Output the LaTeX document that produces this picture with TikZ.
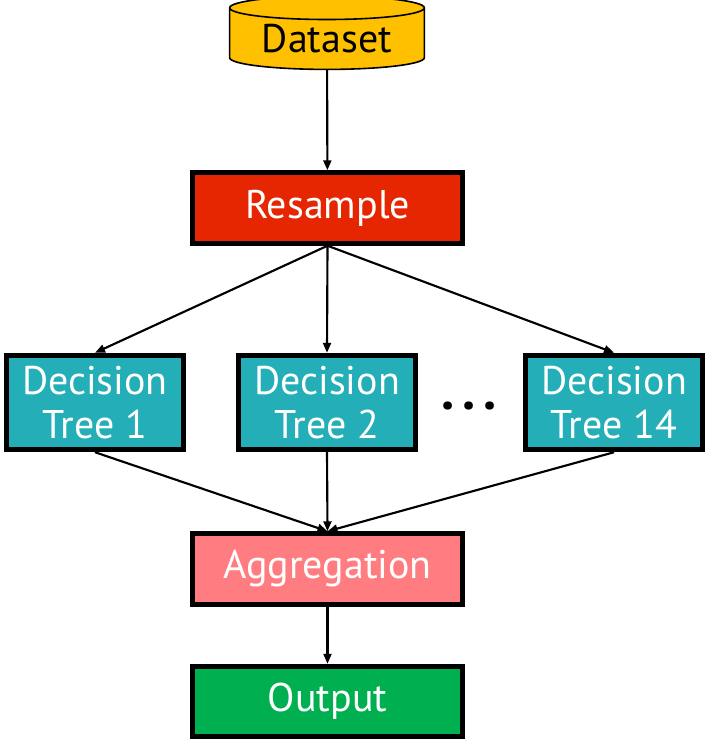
\documentclass[tikz,border=0pt]{standalone}
\usepackage{fontspec}
\setmainfont{PT Sans}
\usetikzlibrary{arrows.meta,shapes.geometric}
\definecolor{DataGold}{HTML}{FFC000}
\definecolor{ResRed}{HTML}{E52600}
\definecolor{TreeTeal}{HTML}{23AEB8}
\definecolor{AggPink}{HTML}{FF7C80}
\definecolor{OutGreen}{HTML}{00B050}

\begin{document}
\begin{tikzpicture}[x=0.75pt,y=-0.75pt,
  every node/.style={font=\fontsize{30}{33}\selectfont,align=center,inner sep=0pt},
  stage/.style={draw,line width=3.6pt,text=white,minimum width=203pt,minimum height=53pt},
  tree/.style={draw,line width=3.6pt,fill=TreeTeal,text=white,minimum width=133pt,minimum height=71pt},
  flow/.style={-{Triangle[length=7.5pt,width=6pt]},line width=1.6pt}]
  \useasboundingbox (0,0) rectangle (719,747);
  \node[draw,line width=1.2pt,fill=DataGold,cylinder,shape border rotate=90,aspect=0.18,minimum width=146pt,minimum height=55pt] (data) at (327,39) {Dataset};
  \node[stage,fill=ResRed] (resample) at (327.5,208) {Resample};
  \node[tree] (tree1) at (95,402.5) {Decision\\Tree 1};
  \node[tree] (tree2) at (327,402.5) {Decision\\Tree 2};
  \node[tree] (tree14) at (614,402.5) {Decision\\Tree 14};
  \node[font=\fontsize{40}{40}\selectfont\bfseries] (dots) at (469,406) {.\hspace{6pt}.\hspace{6pt}.};
  \node[stage,fill=AggPink] (agg) at (327.5,569) {Aggregation};
  \node[stage,fill=OutGreen] (output) at (327.5,701.5) {Output};
  \draw[flow] (data) -- (resample);
  \draw[flow] (resample.south) -- (tree1.north);
  \draw[flow] (resample.south) -- (tree2.north);
  \draw[flow] (resample.south) -- (tree14.north);
  \draw[flow] (tree1.south) -- (agg.north);
  \draw[flow] (tree2.south) -- (agg.north);
  \draw[flow] (tree14.south) -- (agg.north);
  \draw[flow] (agg) -- (output);
\end{tikzpicture}
\end{document}
